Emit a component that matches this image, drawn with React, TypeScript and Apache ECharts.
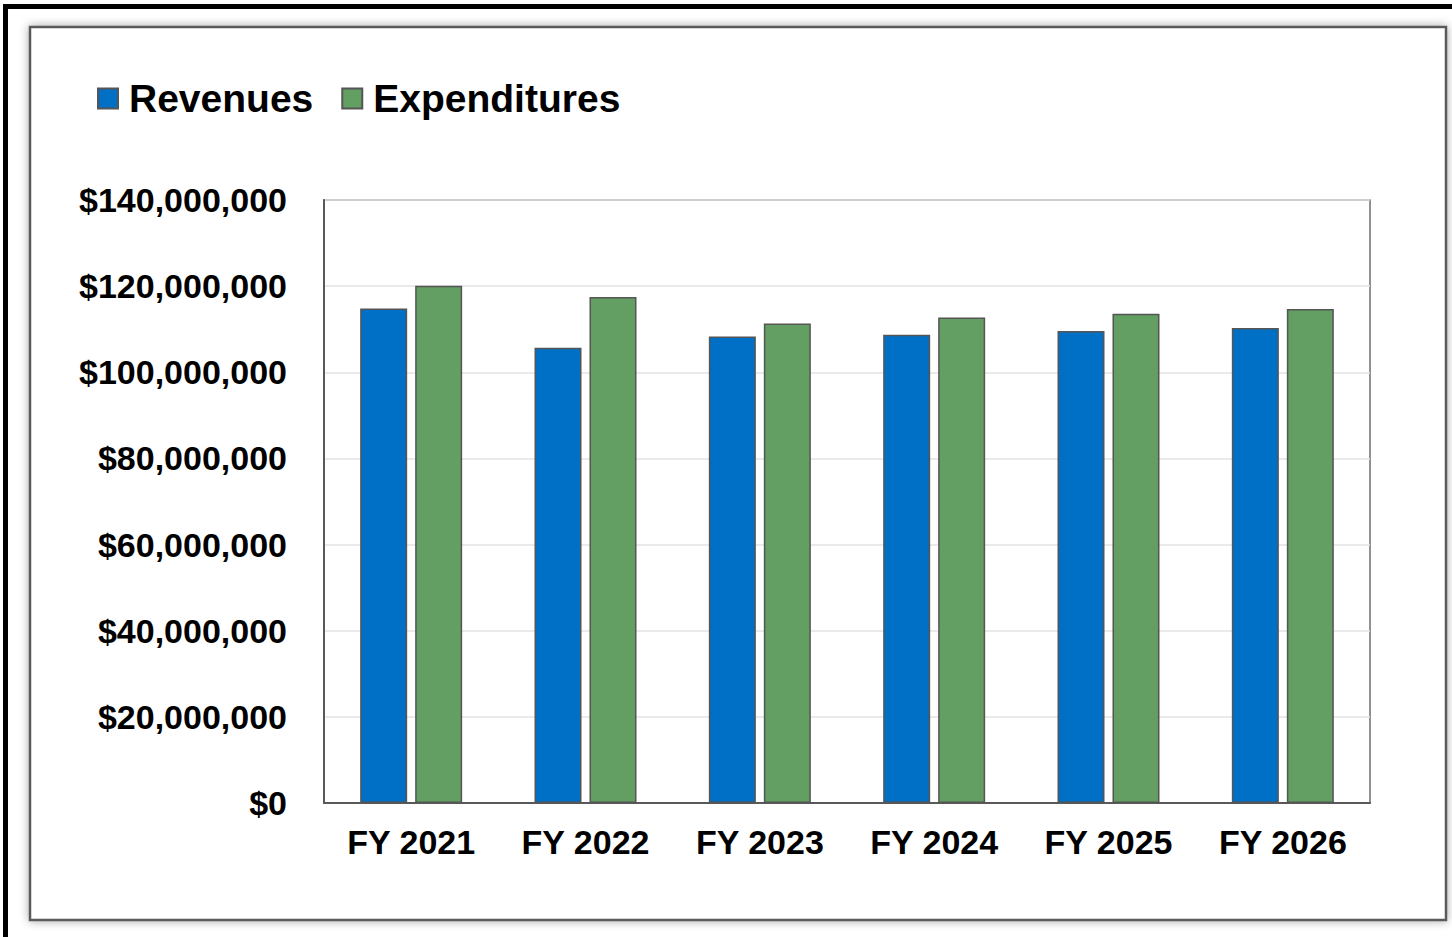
import React, { useEffect, useRef } from "react";
import * as echarts from "echarts";

const categories = ["FY 2021", "FY 2022", "FY 2023", "FY 2024", "FY 2025", "FY 2026"];
const revenues = [114800000, 105700000, 108300000, 108700000, 109600000, 110300000];
const expenditures = [120100000, 117500000, 111300000, 112700000, 113600000, 114700000];
const yTicks = { min: 0, max: 140000000, interval: 20000000 };

const FONT = "'Liberation Sans', Arial, sans-serif";

export default function App() {
  const ref = useRef<HTMLDivElement>(null);
  useEffect(() => {
    document.body.style.margin = "0";
    if (!ref.current) return;
    const chart = echarts.init(ref.current, null, { renderer: "svg" });
    chart.setOption({
      animation: false,
      backgroundColor: "#ffffff",
      graphic: [
        {
          type: "rect",
          z: -10,
          silent: true,
          shape: { x: 5.5, y: 6.5, width: 1470, height: 960 },
          style: { fill: "#ffffff", stroke: "#000000", lineWidth: 5 },
        },
        {
          type: "rect",
          z: -9,
          silent: true,
          shape: { x: 30, y: 27, width: 1416, height: 893 },
          style: {
            fill: "#ffffff",
            stroke: "#5a5a5a",
            lineWidth: 2.5,
            shadowBlur: 10,
            shadowColor: "rgba(0,0,0,0.35)",
            shadowOffsetX: 0,
            shadowOffsetY: 0,
          },
        },
      ],
      legend: {
        left: 97,
        top: 79,
        padding: 0,
        itemWidth: 20,
        itemHeight: 20,
        itemGap: 28,
        icon: "rect",
        data: ["Revenues", "Expenditures"],
        textStyle: {
          fontFamily: FONT,
          fontSize: 39,
          fontWeight: "bold",
          color: "#000000",
          padding: [0, 0, 0, 6],
        },
      },
      grid: {
        left: 324,
        top: 200,
        width: 1046,
        height: 603,
        show: true,
        borderColor: "#6e6e6e",
        borderWidth: 1.5,
        backgroundColor: "transparent",
        containLabel: false,
      },
      xAxis: {
        type: "category",
        data: categories,
        axisTick: { show: false },
        axisLine: { show: true, lineStyle: { color: "#595959", width: 2 } },
        axisLabel: {
          fontFamily: FONT,
          fontSize: 34,
          fontWeight: "bold",
          color: "#000000",
          margin: 22,
        },
      },
      yAxis: {
        type: "value",
        min: yTicks.min,
        max: yTicks.max,
        interval: yTicks.interval,
        axisLine: { show: true, lineStyle: { color: "#595959", width: 2 } },
        axisTick: { show: false },
        splitLine: { show: true, lineStyle: { color: "#e3e3e3", width: 1.5 } },
        axisLabel: {
          fontFamily: FONT,
          fontSize: 34,
          fontWeight: "bold",
          color: "#000000",
          margin: 37,
          verticalAlign: "middle",
          lineHeight: 34,
          padding: [0, 0, 4, 0],
          formatter: (v: number) => "$" + v.toLocaleString("en-US"),
        },
      },
      series: [
        {
          name: "Revenues",
          type: "bar",
          data: revenues,
          barWidth: 47,
          barGap: "17%",
          itemStyle: { color: "#0070C6", borderColor: "#555555", borderWidth: 1.5 },
        },
        {
          name: "Expenditures",
          type: "bar",
          data: expenditures,
          barWidth: 47,
          barGap: "17%",
          itemStyle: { color: "#639E63", borderColor: "#555555", borderWidth: 1.5 },
        },
      ],
    });
    return () => chart.dispose();
  }, []);
  return <div ref={ref} style={{ width: 1452, height: 937 }} />;
}
